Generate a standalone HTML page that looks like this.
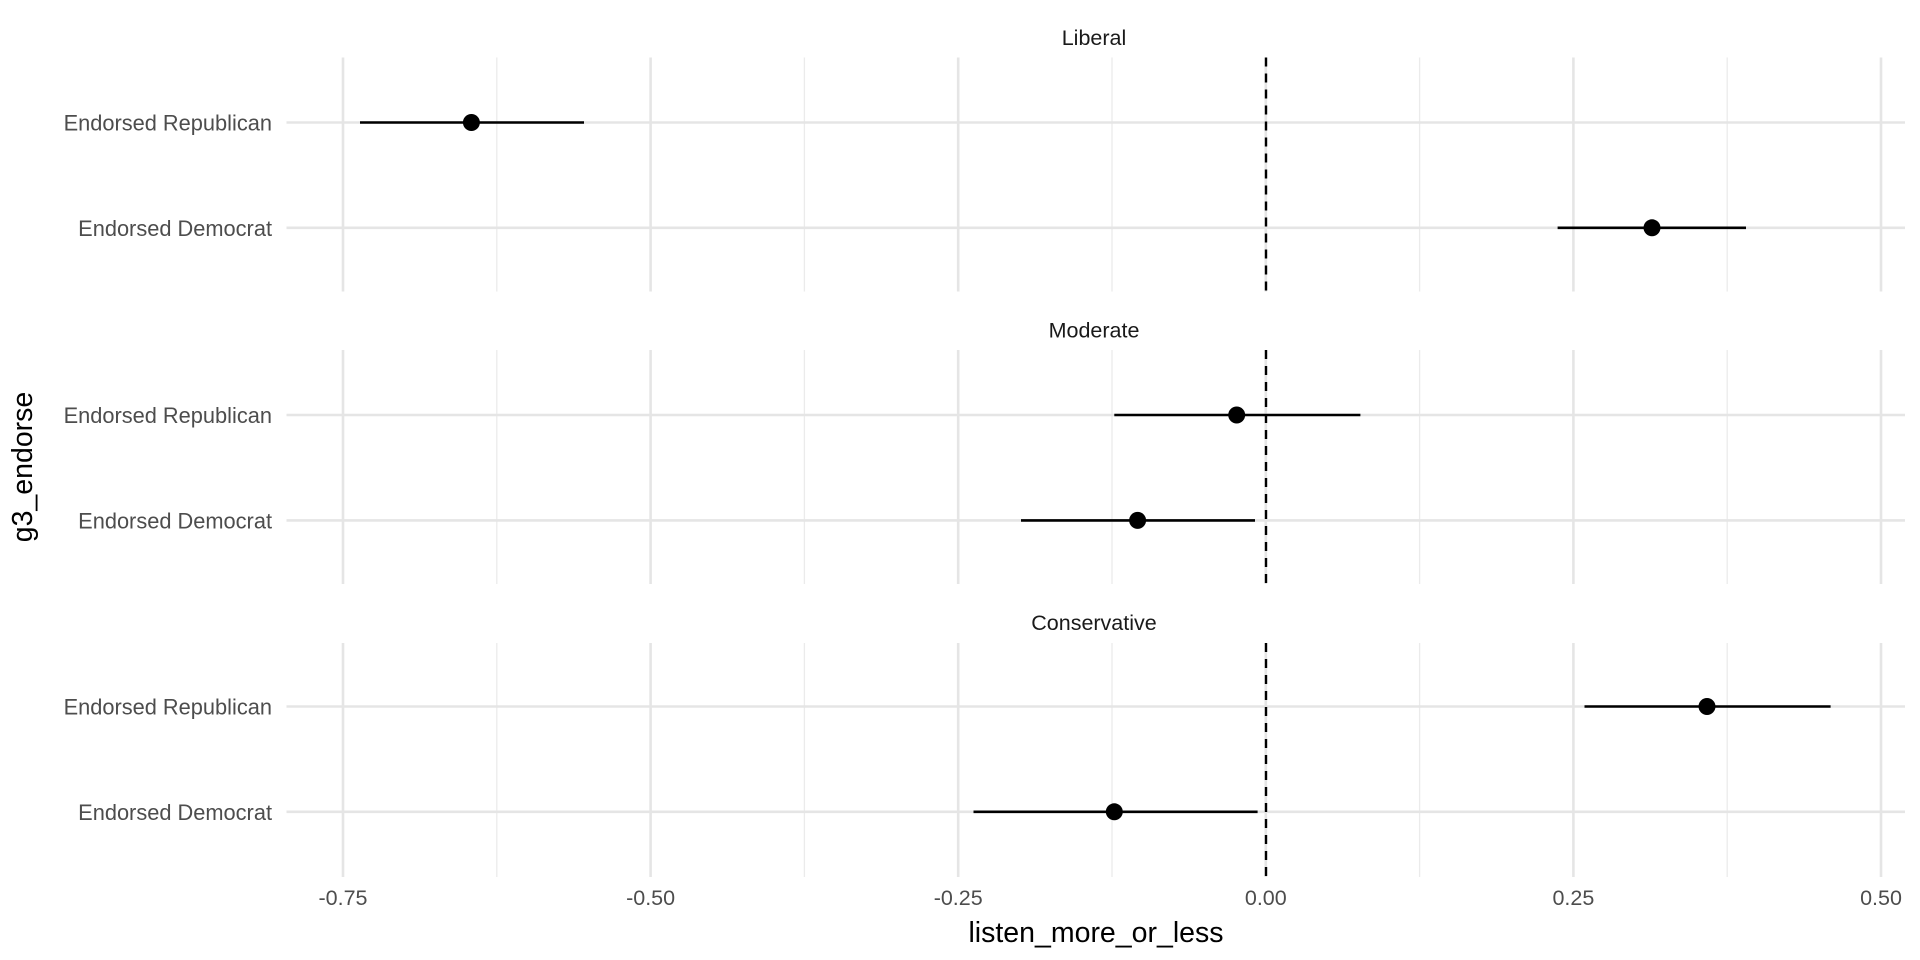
<!DOCTYPE html>
<html><head><style>body{margin:0;background:#fff}svg{display:block}text{font-family:"Liberation Sans",sans-serif}</style></head>
<body>
<svg width="1920" height="960" viewBox="0 0 1920 960" xmlns="http://www.w3.org/2000/svg">
<rect width="1920" height="960" fill="#fff"/>
<script>
const svg=document.querySelector('svg');
const NS='http://www.w3.org/2000/svg';
function el(t,a,txt){const e=document.createElementNS(NS,t);for(const k in a)e.setAttribute(k,a[k]);if(txt)e.textContent=txt;svg.appendChild(e);return e;}
const panels=[
 {t:'Liberal',y0:57.5,y1:291.5,ty:45,r:[122.5,227.8],pts:[[471.4,360,584],[1652,1557.6,1746]]},
 {t:'Moderate',y0:350,y1:584,ty:337.5,r:[415,520.4],pts:[[1236.7,1114.3,1360.4],[1137.6,1021,1255]]},
 {t:'Conservative',y0:643,y1:877,ty:630,r:[706.5,811.8],pts:[[1707,1584.5,1830.6],[1114.3,973.5,1257.6]]}
];
const major=[343,650.6,958.2,1265.8,1573.4,1881], minor=[496.8,804.4,1112,1419.6,1727.2];
panels.forEach(p=>{
 minor.forEach(x=>el('line',{x1:x,x2:x,y1:p.y0,y2:p.y1,stroke:'#ebebeb','stroke-width':1.3}));
 major.forEach(x=>el('line',{x1:x,x2:x,y1:p.y0,y2:p.y1,stroke:'#e5e5e5','stroke-width':2.6}));
 p.r.forEach(y=>el('line',{x1:286.5,x2:1905,y1:y,y2:y,stroke:'#e5e5e5','stroke-width':2.6}));
 el('text',{x:1094,y:p.ty,'font-size':21.5,'text-anchor':'middle',fill:'#1a1a1a'},p.t);
 el('text',{x:272,y:p.r[0]+8,'font-size':21.8,'text-anchor':'end',fill:'#4d4d4d'},'Endorsed Republican');
 el('text',{x:272,y:p.r[1]+8,'font-size':21.8,'text-anchor':'end',fill:'#4d4d4d'},'Endorsed Democrat');
 el('line',{x1:1266,x2:1266,y1:p.y0,y2:p.y1,stroke:'#000','stroke-width':2.4,'stroke-dasharray':'9,7'});
 p.pts.forEach((q,i)=>{const y=p.r[i];
  el('line',{x1:q[1],x2:q[2],y1:y,y2:y,stroke:'#000','stroke-width':2.6});
  el('circle',{cx:q[0],cy:y,r:8.5,fill:'#000'});});
});
const labs=['-0.75','-0.50','-0.25','0.00','0.25','0.50'];
major.forEach((x,i)=>el('text',{x:x,y:905,'font-size':21.5,'text-anchor':'middle',fill:'#4d4d4d'},labs[i]));
el('text',{x:1096,y:942,'font-size':28.5,'text-anchor':'middle',fill:'#000'},'listen_more_or_less');
el('text',{x:0,y:0,'font-size':28.5,'text-anchor':'middle',fill:'#000',transform:'translate(32,467) rotate(-90)'},'g3_endorse');
</script>
</svg>
</body></html>
